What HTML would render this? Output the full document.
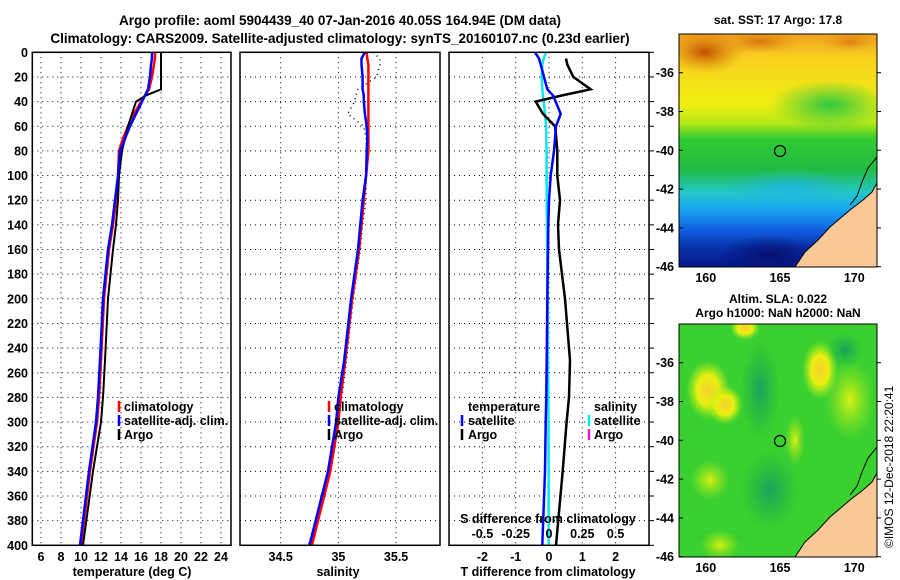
<!DOCTYPE html>
<html><head><meta charset="utf-8"><style>
html,body{margin:0;padding:0;background:#fff;}
svg{display:block;font-family:"Liberation Sans",Arial,sans-serif;font-weight:bold;}
</style></head><body>
<svg id="fig" width="900" height="580" viewBox="0 0 900 580">
<defs>
<linearGradient id="sstg" x1="0" y1="0" x2="0" y2="1">
<stop offset="0" stop-color="#f0a020"/><stop offset="0.1" stop-color="#f8d020"/>
<stop offset="0.3" stop-color="#f0ee10"/><stop offset="0.38" stop-color="#b8e818"/>
<stop offset="0.45" stop-color="#30cc30"/><stop offset="0.58" stop-color="#22bb44"/>
<stop offset="0.68" stop-color="#22c8c8"/><stop offset="0.75" stop-color="#1aa8f0"/>
<stop offset="0.84" stop-color="#1060e0"/><stop offset="0.92" stop-color="#0830a8"/>
<stop offset="1" stop-color="#061888"/></linearGradient>
<radialGradient id="hot"><stop offset="0" stop-color="#c05000"/><stop offset="1" stop-color="#e08010" stop-opacity="0"/></radialGradient>
<radialGradient id="yb"><stop offset="0" stop-color="#f8d030"/><stop offset="0.5" stop-color="#e8f010"/><stop offset="1" stop-color="#a8ee20" stop-opacity="0"/></radialGradient>
<radialGradient id="yg"><stop offset="0" stop-color="#d8f010"/><stop offset="1" stop-color="#a0ea20" stop-opacity="0"/></radialGradient>
<radialGradient id="dg"><stop offset="0" stop-color="#1aa060"/><stop offset="1" stop-color="#22b040" stop-opacity="0"/></radialGradient>
<radialGradient id="grn"><stop offset="0" stop-color="#30c840"/><stop offset="1" stop-color="#30c840" stop-opacity="0"/></radialGradient>
<radialGradient id="cy"><stop offset="0" stop-color="#20b0f0"/><stop offset="1" stop-color="#20b0f0" stop-opacity="0"/></radialGradient>
<radialGradient id="nv"><stop offset="0" stop-color="#061070"/><stop offset="1" stop-color="#061070" stop-opacity="0"/></radialGradient>
<clipPath id="m1"><rect x="679" y="34" width="198" height="233"/></clipPath>
<clipPath id="m2"><rect x="679" y="324" width="198" height="233"/></clipPath>
</defs>
<rect width="900" height="580" fill="#fff"/>
<text x="340" y="25" font-size="13.5" text-anchor="middle">Argo profile: aoml 5904439_40 07-Jan-2016 40.05S 164.94E (DM data)</text>
<text x="340" y="43" font-size="13.5" text-anchor="middle">Climatology: CARS2009. Satellite-adjusted climatology: synTS_20160107.nc (0.23d earlier)</text>

<g id="grids"></g>
<g id="marks"></g>
<g id="labels" font-size="12.5"></g>

<g>
<g clip-path="url(#m1)">
<rect x="679" y="34" width="198" height="233" fill="url(#sstg)"/>
<ellipse cx="705" cy="52" rx="40" ry="22" fill="url(#hot)"/>
<ellipse cx="760" cy="42" rx="40" ry="12" fill="url(#hot)" opacity="0.6"/>
<ellipse cx="850" cy="42" rx="30" ry="10" fill="url(#hot)" opacity="0.5"/>
<ellipse cx="830" cy="105" rx="60" ry="25" fill="url(#grn)"/>
<ellipse cx="790" cy="188" rx="60" ry="18" fill="url(#cy)" opacity="0.7"/>
<ellipse cx="770" cy="255" rx="50" ry="20" fill="url(#nv)"/>
<polygon points="795,267 805,252 818,240 830,227 850,210 863,200 872,192 877,183 877,267" fill="#f9c896" stroke="#000" stroke-width="1"/>
<polyline points="877,157 868,168 862,182 857,196 850,205" fill="none" stroke="#000" stroke-width="1"/>
<circle cx="780" cy="151" r="5.5" fill="none" stroke="#000" stroke-width="1.2"/>
</g>
<rect x="679" y="34" width="198" height="233" fill="none" stroke="#000" stroke-width="1"/>
<text x="778" y="24" font-size="12" text-anchor="middle">sat. SST: 17 Argo: 17.8</text>
</g>

<g>
<g clip-path="url(#m2)">
<rect x="679" y="324" width="198" height="233" fill="#3ad030"/>
<ellipse cx="708" cy="390" rx="22" ry="30" fill="url(#yb)"/>
<ellipse cx="725" cy="405" rx="18" ry="20" fill="url(#yb)"/>
<ellipse cx="745" cy="328" rx="15" ry="12" fill="url(#yb)"/>
<ellipse cx="820" cy="370" rx="18" ry="30" fill="url(#yb)"/>
<ellipse cx="795" cy="440" rx="10" ry="25" fill="url(#yg)"/>
<ellipse cx="710" cy="480" rx="20" ry="20" fill="url(#yg)"/>
<ellipse cx="850" cy="400" rx="25" ry="40" fill="url(#yg)"/>
<ellipse cx="720" cy="545" rx="20" ry="15" fill="url(#yg)"/>
<ellipse cx="760" cy="390" rx="20" ry="50" fill="url(#dg)"/>
<ellipse cx="845" cy="350" rx="18" ry="18" fill="url(#dg)"/>
<ellipse cx="770" cy="490" rx="30" ry="40" fill="url(#dg)"/>
<polygon points="795,557 805,542 818,530 830,517 850,500 863,490 872,482 877,473 877,557" fill="#f9c896" stroke="#000" stroke-width="1"/>
<polyline points="877,447 868,458 862,472 857,486 850,495" fill="none" stroke="#000" stroke-width="1"/>
<circle cx="780" cy="441" r="5.5" fill="none" stroke="#000" stroke-width="1.2"/>
</g>
<rect x="679" y="324" width="198" height="233" fill="none" stroke="#000" stroke-width="1"/>
<text x="778" y="303" font-size="12" text-anchor="middle">Altim. SLA: 0.022</text>
<text x="778" y="317" font-size="12" text-anchor="middle">Argo h1000: NaN h2000: NaN</text>
</g>
<text transform="translate(893,548) rotate(-90)" font-size="12" font-weight="normal">©IMOS 12-Dec-2018 22:20:41</text>
<g id="maplabels" font-size="12.5"></g>

<script>
const depths   = [0,5,10,20,30,35,40,50,60,70,80,100,120,140,160,200,250,280,300,340,400];
const tempClim = [17.4,17.4,17.3,17.1,16.8,16.4,16.0,15.3,14.7,14.2,13.8,13.7,13.5,13.2,12.8,12.3,12.0,11.8,11.6,10.9,10.0];
const tempSat  = [17.1,17.1,17.0,16.9,16.7,16.4,16.1,15.5,14.9,14.4,13.9,13.7,13.4,13.1,12.7,12.2,11.9,11.7,11.5,10.8,9.9];
const tempArgo = [18.0,18.0,18.0,18.0,18.0,16.5,15.5,15.1,14.7,14.4,14.1,13.8,13.7,13.5,13.2,12.7,12.4,12.2,12.0,11.2,10.2];
const salClim  = [35.245,35.25,35.26,35.26,35.26,35.26,35.26,35.26,35.26,35.26,35.26,35.24,35.22,35.20,35.18,35.12,35.06,35.02,35.0,34.93,34.77];
const salSat   = [35.23,35.20,35.20,35.21,35.21,35.22,35.22,35.23,35.245,35.25,35.245,35.24,35.21,35.19,35.17,35.11,35.05,35.0,34.98,34.91,34.75];
const salArgo  = [35.3,35.36,35.36,35.33,35.17,35.15,35.14,35.08,35.22,35.24,35.245,35.24,35.24,35.21,35.19,35.13,35.07,35.03,35.0,34.92,34.74];
const dTsat    = [-0.42,-0.3,-0.25,-0.15,-0.05,0.12,0.2,0.35,0.21,0.18,0.15,0.05,0.0,-0.02,-0.03,-0.05,-0.07,-0.08,-0.1,-0.12,-0.2];
const dTargo   = [null,0.51,0.55,0.73,1.25,0.4,-0.4,-0.18,0.18,0.22,0.25,0.25,0.33,0.27,0.3,0.48,0.63,0.6,0.53,0.41,0.21];
const dSsat    = [-0.022,-0.04,-0.05,-0.055,-0.05,-0.045,-0.04,-0.03,-0.022,-0.02,-0.018,-0.018,-0.017,-0.016,-0.014,-0.01,-0.008,-0.005,-0.004,-0.003,-0.003];
const depthTicks = [0,20,40,60,80,100,120,140,160,180,200,220,240,260,280,300,320,340,360,380,400];
const tempTicks = [6,8,10,12,14,16,18,20,22,24];
const salTicks = [34.5,35,35.5];
const salTickLabels = ["34.5","35","35.5"];
const dTTicks = [-2,-1,0,1,2];
const dSTicks = [-0.5,-0.25,0,0.25,0.5];
const lonTicks = [160,165,170];
const latTicks = [-36,-38,-40,-42,-44,-46];

const yD = d => 52.3 + d*1.2325;
const xT = t => 41 + (t-6)*10;
const xS = s => 338.4 + (s-35)*115.4;
const xD = v => 549 + v*33.3;
const xDS = v => 549 + v*4*33.3;
const xLon = l => 780 + (l-165)*14.85;
const yLat1 = l => 72.7 + (-36-l)*19.4;
const yLat2 = l => 362.7 + (-36-l)*19.4;

const NS="http://www.w3.org/2000/svg";
function mk(tag, attrs, parent){const e=document.createElementNS(NS,tag);for(const k in attrs)e.setAttribute(k,attrs[k]);parent.appendChild(e);return e;}
const grids=document.getElementById('grids'), marks=document.getElementById('marks'), labels=document.getElementById('labels'), ml=document.getElementById('maplabels');
const panels=[{l:32.3,r:231,n:'temperature'},{l:240,r:440,n:'salinity'},{l:449,r:649,n:'t-difference'}];
const yTop=52.3, yBot=yD(400);

panels.forEach(p=>{
  depthTicks.forEach(d=>{
    const g=mk('line',{x1:p.l,x2:p.r,y1:yD(d),y2:yD(d),stroke:'#000','stroke-width':1,'stroke-dasharray':'1,4'},grids);
    
    
  });
});
function vgrid(x){const g=mk('line',{x1:x,x2:x,y1:yTop,y2:yBot,stroke:'#000','stroke-width':1,'stroke-dasharray':'1,4'},grids);
  
  }
tempTicks.forEach(t=>vgrid(xT(t)));
salTicks.forEach(s=>vgrid(xS(s)));
dTTicks.forEach(v=>vgrid(xD(v)));

function line(xs,xf,color,w,name,dash){
  const pts=[];depths.forEach((d,i)=>{if(xs[i]!==null)pts.push(xf(xs[i]).toFixed(1)+','+yD(d).toFixed(1));});
  const pl=mk('polyline',{points:pts.join(' '),fill:'none',stroke:color,'stroke-width':w},marks);
  if(dash)pl.setAttribute('stroke-dasharray',dash);
  
  
}
line(tempClim,xT,'#f00',2.5,'temp-climatology-line');
line(tempArgo,xT,'#000',2,'temp-argo-line');
line(tempSat,xT,'#00f',2.5,'temp-satellite-line');
line(salArgo,xS,'#000',1.5,'salinity-argo-line','1,4');
line(salClim,xS,'#f00',2.5,'salinity-climatology-line');
line(salSat,xS,'#00f',2.5,'salinity-satellite-line');
line(dSsat,xDS,'#00e8f0',2.5,'s-diff-satellite-line');
line(dTargo,xD,'#000',2.5,'t-diff-argo-line');
line(dTsat,xD,'#00f',2.5,'t-diff-satellite-line');

panels.forEach(p=>{
  const f=mk('rect',{x:p.l,y:yTop,width:p.r-p.l,height:yBot-yTop,fill:'none',stroke:'#000','stroke-width':1.5},marks);
  
  
});
depthTicks.forEach(d=>{
  mk('line',{x1:649,x2:654,y1:yD(d),y2:yD(d),stroke:'#000'},marks);
  const t=mk('text',{x:28,y:yD(d)+4.5,'text-anchor':'end'},labels);t.textContent=d;
  
  
});
function xl(x,y,s,name,anchor){const t=mk('text',{x:x,y:y,'text-anchor':anchor||'middle'},labels);t.textContent=s;
  
  return t;}
tempTicks.forEach(t=>xl(xT(t),561,t,'temp-tick-label'));
salTicks.forEach((s,i)=>xl(xS(s),561,salTickLabels[i],'salinity-tick-label'));
dTTicks.forEach(v=>xl(xD(v),561,v,'tdiff-tick-label'));
dSTicks.forEach(v=>xl(xDS(v),538,v,'sdiff-tick-label'));
xl(132,576,'temperature (deg C)','temp-axis-title');
xl(338,576,'salinity','salinity-axis-title');
xl(548,576,'T difference from climatology','tdiff-axis-title');
xl(548,523,'S difference from climatology','sdiff-axis-title');

function leg(mx,tx,y,color,label,name){
  if(color){const m=mk('line',{x1:mx,x2:mx,y1:y-10,y2:y+1,stroke:color,'stroke-width':2.5},labels);
    
    }
  xl(tx,y,label,name,'start');
}
leg(119,124,411,'#f00','climatology','legend-climatology');
leg(119,124,425,'#00f','satellite-adj. clim.','legend-satellite');
leg(119,124,439,'#000','Argo','legend-argo');
leg(329,334,411,'#f00','climatology','legend-sal-climatology');
leg(329,334,425,'#00f','satellite-adj. clim.','legend-sal-satellite');
leg(329,334,439,'#000','Argo','legend-sal-argo');
leg(null,468,411,null,'temperature','legend-temperature-header');
leg(462,468,425,'#00f','satellite','legend-t-satellite');
leg(462,468,439,'#000','Argo','legend-t-argo');
leg(null,594,411,null,'salinity','legend-salinity-header');
leg(589,594,425,'#00e8f0','satellite','legend-s-satellite');
leg(589,594,439,'#e020d0','Argo','legend-s-argo');

[[yLat1,282],[yLat2,572]].forEach(([yf,ly])=>{
  latTicks.forEach(l=>{
    const t=mk('text',{x:674,y:yf(l)+4.5,'text-anchor':'end'},ml);t.textContent=l;
    
    
    mk('line',{x1:877,x2:881,y1:yf(l),y2:yf(l),stroke:'#000'},ml);
    mk('line',{x1:679,x2:683,y1:yf(l),y2:yf(l),stroke:'#000'},ml);
  });
  lonTicks.forEach(l=>{
    const t=mk('text',{x:xLon(l),y:ly,'text-anchor':'middle'},ml);t.textContent=l;
    
    
  });
});
</script>
</svg>
</body></html>
